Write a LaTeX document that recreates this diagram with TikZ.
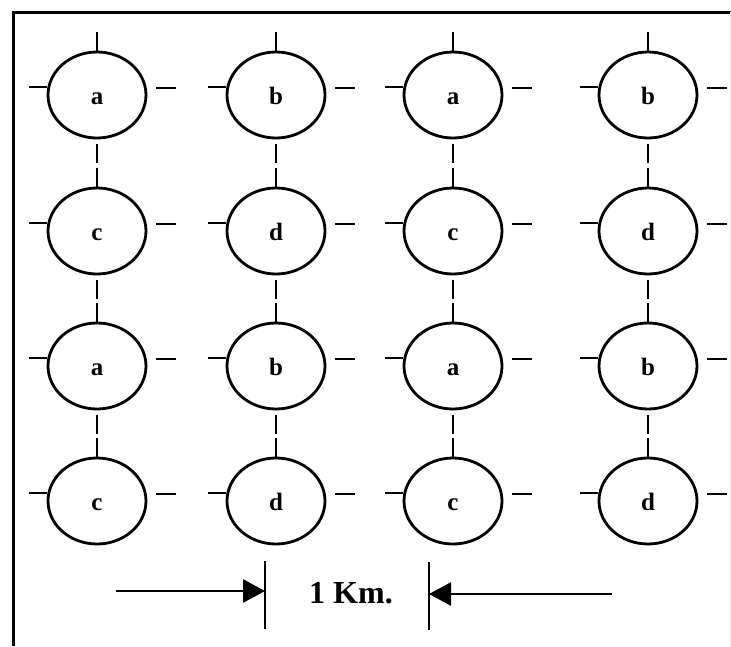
\documentclass[tikz,border=0pt]{standalone}
\usepackage{fontspec}
\setmainfont{Liberation Serif}
\usetikzlibrary{shapes.geometric,arrows.meta}
\begin{document}
\begin{tikzpicture}[x=1pt,y=-1pt,
  cell/.style={ellipse,draw,line width=2.8pt,minimum width=98pt,minimum height=86pt,
    inner sep=0pt,font=\fontsize{25}{25}\selectfont\bfseries,text height=18pt,text depth=0pt},
  tick/.style={line width=2.7pt},
  frame/.style={line width=3pt},
  dimline/.style={line width=2.8pt},
  dimarrow/.style={line width=2.8pt,-{Triangle[length=22pt,width=23pt]}}]
\useasboundingbox (0,0) rectangle (731,646);

% border
\coordinate (fa) at (13,646);
\coordinate (fb) at (13,12);
\coordinate (fc) at (731,12);
\coordinate (fd) at (730,12);
\coordinate (fe) at (730,646);
\draw[frame] (fa) -- (fb) -- (fc);
\draw[black!8,line width=1pt] (fd) -- (fe);

% stations
\node[cell] (n11) at (97,95)  {a};
\node[cell] (n12) at (276,95) {b};
\node[cell] (n13) at (453,95) {a};
\node[cell] (n14) at (648,95) {b};
\node[cell] (n21) at (97,231)  {c};
\node[cell] (n22) at (276,231) {d};
\node[cell] (n23) at (453,231) {c};
\node[cell] (n24) at (648,231) {d};
\node[cell] (n31) at (97,366)  {a};
\node[cell] (n32) at (276,366) {b};
\node[cell] (n33) at (453,366) {a};
\node[cell] (n34) at (648,366) {b};
\node[cell] (n41) at (97,501)  {c};
\node[cell] (n42) at (276,501) {d};
\node[cell] (n43) at (453,501) {c};
\node[cell] (n44) at (648,501) {d};

% stubs on every station
\foreach \n in {n11,n12,n13,n14,n21,n22,n23,n24,n31,n32,n33,n34,n41,n42,n43,n44}{
  \draw[tick] (\n.north) -- ++(0,-19);
  \draw[tick] ([yshift=8pt]\n.west) -- ++(-18,0);
  \draw[tick] ([xshift=9pt,yshift=7pt]\n.east) -- ++(20,0);
}
\foreach \n in {n11,n12,n13,n14,n21,n22,n23,n24,n31,n32,n33,n34}{
  \draw[tick] ([yshift=-5pt]\n.south) -- ++(0,19);
}

% 1 km dimension
\coordinate (dl1) at (265,561);
\coordinate (dl2) at (265,629);
\coordinate (dr1) at (429,562);
\coordinate (dr2) at (429,630);
\coordinate (al1) at (116,591);
\coordinate (al2) at (265,591);
\coordinate (ar1) at (612,594);
\coordinate (ar2) at (429,594);
\draw[dimline] (dl1) -- (dl2);
\draw[dimline] (dr1) -- (dr2);
\draw[dimarrow] (al1) -- (al2);
\draw[dimarrow] (ar1) -- (ar2);
\node[anchor=base,font=\fontsize{32}{32}\selectfont\bfseries] (km) at (351,603) {1 Km.};
\end{tikzpicture}
\end{document}
